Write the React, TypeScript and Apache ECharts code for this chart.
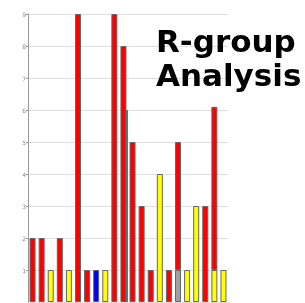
import React, { useEffect, useRef } from "react";
import * as echarts from "echarts";

const categories = ["1","2","3","4","5","6","7","8","9","10","11","12","13","14","15","16","17","18","19","20","21","22"];
const redValues = [2, 2, null, 2, null, 9, 1, null, null, 9, 8, 5, 3, 1, null, 1, 4, null, null, 3, 5.1, null];
const yellowValues = [null, null, 1, null, 1, null, null, null, 1, null, null, null, null, null, 4, null, null, 1, 3, null, 1, 1];
const blueValues = [null, null, null, null, null, null, null, 1, null, null, null, null, null, null, null, null, null, null, null, null, null, null];
const grayValues = [null, null, null, null, null, null, null, null, null, null, null, null, null, null, null, null, 1, null, null, null, null, null];
const tealValues = [null, null, null, null, null, null, null, null, null, null, 6, null, null, null, null, null, null, null, null, null, null, null];
const yTicks = [0, 1, 2, 3, 4, 5, 6, 7, 8, 9];
const titleLines = ["R-group", "Analysis"];

export default function App() {
  const ref = useRef<HTMLDivElement>(null);
  useEffect(() => {
    if (!ref.current) return;
    const chart = echarts.init(ref.current, null, { renderer: "svg" });
    const border = { borderColor: "#666", borderWidth: 1 };
    const mk = (name: string, data: any[], color: string) => ({
      name,
      type: "bar",
      stack: "s",
      data,
      barWidth: 6,
      xAxisIndex: 0,
      yAxisIndex: 0,
      itemStyle: { color, ...border },
    });
    chart.setOption({
      animation: false,
      title: {
        text: titleLines.join("\n"),
        left: 151,
        top: 19,
        textStyle: {
          fontFamily: "DejaVu Sans",
          fontWeight: "bold",
          fontSize: 31,
          lineHeight: 34,
          color: "#000",
        },
      },
      grid: [
        { left: 28, right: 77, top: 14, bottom: 1 },
        { left: 31.5, right: 73.5, top: 14, bottom: 1 },
      ],
      xAxis: [
        {
          type: "category",
          gridIndex: 0,
          data: categories,
          axisLine: { show: false },
          axisTick: { show: false },
          axisLabel: { show: false },
        },
        {
          type: "category",
          gridIndex: 1,
          data: categories,
          show: false,
        },
      ],
      yAxis: [
        {
          type: "value",
          gridIndex: 0,
          min: yTicks[0],
          max: yTicks[yTicks.length - 1],
          interval: 1,
          axisLine: { show: true, lineStyle: { color: "#999", width: 1 } },
          axisTick: { show: true, length: 2, lineStyle: { color: "#999" } },
          axisLabel: { showMinLabel: false, fontSize: 6, color: "#888", margin: 2, fontFamily: "DejaVu Sans" },
          splitLine: { show: true, lineStyle: { color: "#ddd", width: 1 } },
        },
        {
          type: "value",
          gridIndex: 1,
          min: yTicks[0],
          max: yTicks[yTicks.length - 1],
          show: false,
          splitLine: { show: false },
        },
      ],
      series: [
        {
          name: "teal",
          type: "bar",
          data: tealValues,
          barWidth: 2,
          xAxisIndex: 1,
          yAxisIndex: 1,
          z: 1,
          itemStyle: { color: "#009999" },
        },
        mk("yellow", yellowValues, "#ffff00"),
        mk("blue", blueValues, "#0000ff"),
        mk("gray", grayValues, "#a0a0a0"),
        mk("red", redValues, "#ff0000"),
      ],
    });
    return () => chart.dispose();
  }, []);
  return <div ref={ref} style={{ position: "fixed", left: 0, top: 0, width: 305, height: 303 }} />;
}
